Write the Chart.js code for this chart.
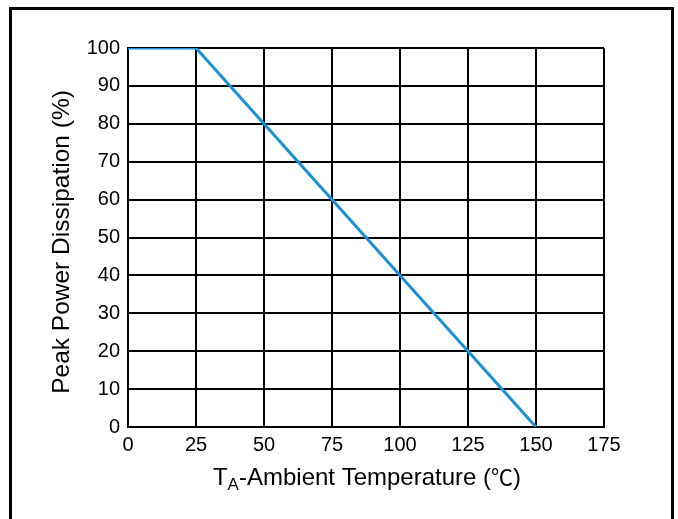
<!DOCTYPE html>
<html>
<head>
<meta charset="utf-8">
<script src="https://cdn.jsdelivr.net/npm/chart.js@4.4.0/dist/chart.umd.min.js"></script>
<style>
  html, body { margin: 0; padding: 0; background: #fff; }
  #wrap { position: relative; width: 678px; height: 519px; overflow: hidden; }
  #frame {
    position: absolute; left: 9px; top: 7px; width: 665px; height: 530px;
    border: 3px solid #000; border-bottom: none; box-sizing: border-box;
  }
  canvas { position: absolute; left: 0; top: 0; }
</style>
</head>
<body>
<div id="wrap">
  <div id="frame"></div>
  <canvas id="deratingChart" width="678" height="519"></canvas>
</div>
<script>
// derating curve: temperature (°C) vs peak power (%)
const temps = [0, 25, 150];
const powerPct = [100, 100, 0];
const xTicks = [0, 25, 50, 75, 100, 125, 150, 175];
const yTicks = [0, 10, 20, 30, 40, 50, 60, 70, 80, 90, 100];

const font = "'Liberation Sans', Arial, sans-serif";
const cjk = "'Noto Sans CJK SC', sans-serif";

const points = temps.map((t, i) => ({ x: t, y: powerPct[i] }));

// axis titles drawn by hand so the "A" can be a subscript
const titlesPlugin = {
  id: 'axisTitles',
  afterDraw: (chart) => {
    const ctx = chart.ctx;
    const { left, right } = chart.chartArea;
    ctx.save();
    ctx.fillStyle = '#000';
    ctx.textBaseline = 'alphabetic';
    ctx.textAlign = 'left';

    // x title, in pieces
    const parts = [
      { t: 'T', f: '24px ' + font, dy: 0 },
      { t: 'A', f: '17px ' + font, dy: 5 },
      { t: '-Ambient Temperature (', f: '24px ' + font, dy: 0 },
      { t: '℃', f: '22px ' + cjk, dy: 0 },
      { t: ')', f: '24px ' + font, dy: 0 }
    ];
    let total = 0;
    parts.forEach(p => { ctx.font = p.f; p.w = ctx.measureText(p.t).width; total += p.w; });
    let x = (left + right) / 2 + 1 - total / 2;
    const y = 485;
    parts.forEach(p => {
      ctx.font = p.f;
      ctx.fillText(p.t, x, y + p.dy);
      x += p.w;
    });

    // y title
    ctx.font = '24.5px ' + font;
    ctx.translate(69, 242);
    ctx.rotate(-Math.PI / 2);
    ctx.textAlign = 'center';
    ctx.fillText('Peak Power Dissipation (%)', 0, 0);
    ctx.restore();
  }
};

new Chart(document.getElementById('deratingChart').getContext('2d'), {
  type: 'scatter',
  data: {
    datasets: [{
      data: points,
      showLine: true,
      borderColor: '#1b90d8',
      borderWidth: 3,
      pointRadius: 0,
      fill: false,
      tension: 0
    }]
  },
  options: {
    responsive: false,
    animation: false,
    layout: { padding: { left: 38, top: 48, right: 74, bottom: 22 } },
    plugins: { legend: { display: false }, tooltip: { enabled: false } },
    scales: {
      x: {
        type: 'linear',
        min: 0,
        max: 175,
        afterBuildTicks: (scale) => { scale.ticks = xTicks.map(v => ({ value: v })); },
        afterFit: (scale) => { scale.height = 70; },
        border: { color: '#000', width: 2 },
        grid: { color: '#000', lineWidth: 2, drawTicks: false },
        ticks: {
          color: '#000',
          padding: 6,
          maxRotation: 0,
          autoSkip: false,
          font: { family: font, size: 20 }
        }
      },
      y: {
        min: 0,
        max: 100,
        afterBuildTicks: (scale) => { scale.ticks = yTicks.map(v => ({ value: v })); },
        afterFit: (scale) => { scale.width = 90; },
        border: { color: '#000', width: 2 },
        grid: { color: '#000', lineWidth: 2, drawTicks: false },
        ticks: {
          color: '#000',
          padding: 8,
          autoSkip: false,
          font: { family: font, size: 20 }
        }
      }
    }
  },
  plugins: [titlesPlugin]
});
</script>
</body>
</html>
